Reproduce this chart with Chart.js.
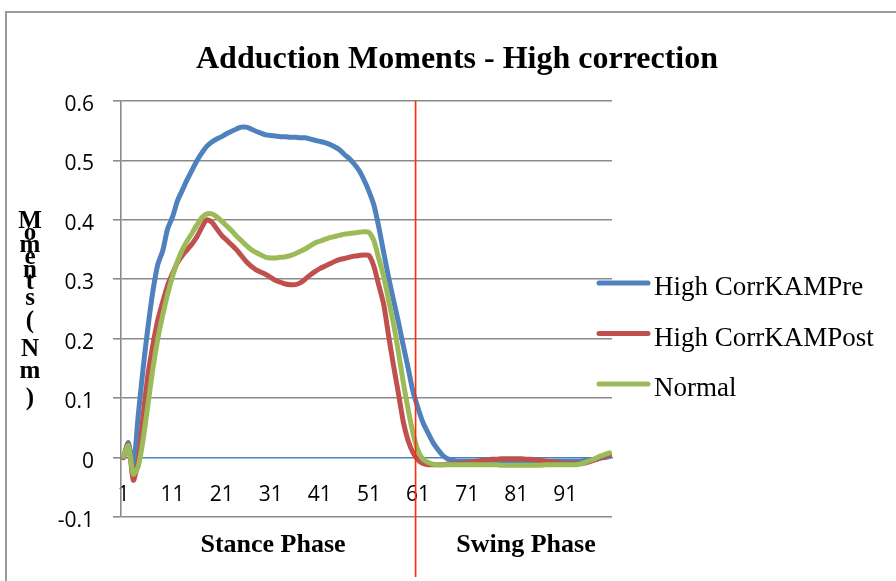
<!DOCTYPE html>
<html>
<head>
<meta charset="utf-8">
<script src="https://cdn.jsdelivr.net/npm/chart.js@4.4.1/dist/chart.umd.min.js"></script>
<style>
  html, body { margin: 0; padding: 0; background: #fff; overflow: hidden; }
  #frame { position: absolute; left: 5px; top: 11px; width: 920px; height: 600px; border: 2px solid #9a9a9a; }
  #wrap { position: absolute; left: 0; top: 0; width: 896px; height: 581px; }
</style>
</head>
<body>
<div id="frame"></div>
<div id="wrap"><canvas id="chart"></canvas></div>
<script>
// gait cycle steps (% of cycle)
const steps = [
  1, 2, 3, 4, 5, 6, 7, 8, 9, 10, 11, 12, 13, 14, 15, 16, 17, 18, 19, 20,
  21, 22, 23, 24, 25, 26, 27, 28, 29, 30, 31, 32, 33, 34, 35, 36, 37, 38, 39, 40,
  41, 42, 43, 44, 45, 46, 47, 48, 49, 50, 51, 52, 53, 54, 55, 56, 57, 58, 59, 60,
  61, 62, 63, 64, 65, 66, 67, 68, 69, 70, 71, 72, 73, 74, 75, 76, 77, 78, 79, 80,
  81, 82, 83, 84, 85, 86, 87, 88, 89, 90, 91, 92, 93, 94, 95, 96, 97, 98, 99, 100
];

const kamPre = [
  0.0, 0.025, -0.015, 0.07, 0.15, 0.22, 0.28, 0.325, 0.348, 0.385,
  0.405, 0.432, 0.45, 0.468, 0.484, 0.5, 0.513, 0.524, 0.531, 0.536,
  0.54, 0.545, 0.549, 0.553, 0.556, 0.556, 0.553, 0.549, 0.546, 0.543,
  0.542, 0.541, 0.54, 0.54, 0.539, 0.539, 0.538, 0.538, 0.536, 0.534,
  0.532, 0.53, 0.527, 0.523, 0.518, 0.51, 0.503, 0.494, 0.483, 0.467,
  0.448, 0.425, 0.388, 0.345, 0.303, 0.265, 0.228, 0.188, 0.15, 0.11,
  0.083, 0.059, 0.042, 0.026, 0.014, 0.004, -0.002, -0.005, -0.006, -0.006,
  -0.006, -0.006, -0.006, -0.006, -0.006, -0.006, -0.006, -0.006, -0.006, -0.006,
  -0.006, -0.006, -0.006, -0.006, -0.006, -0.006, -0.006, -0.006, -0.006, -0.006,
  -0.006, -0.006, -0.006, -0.006, -0.005, -0.004, -0.003, -0.001, 0.0, 0.002
];

const kamPost = [
  0.0, 0.022, -0.038, -0.005, 0.07, 0.14, 0.19, 0.232, 0.262, 0.29,
  0.31, 0.328, 0.34, 0.35, 0.36, 0.372, 0.388, 0.4, 0.396, 0.385,
  0.374, 0.366, 0.358, 0.35, 0.34, 0.33, 0.322, 0.316, 0.312, 0.308,
  0.303, 0.298, 0.295, 0.292, 0.291, 0.291, 0.294, 0.3, 0.307, 0.313,
  0.318, 0.322, 0.326, 0.33, 0.333, 0.335, 0.337, 0.339, 0.34, 0.341,
  0.34, 0.322, 0.29, 0.258, 0.205, 0.155, 0.108, 0.06, 0.028, 0.008,
  -0.004, -0.01, -0.012, -0.012, -0.012, -0.012, -0.011, -0.011, -0.01, -0.01,
  -0.009, -0.008, -0.006, -0.005, -0.004, -0.003, -0.003, -0.002, -0.002, -0.002,
  -0.002, -0.002, -0.003, -0.003, -0.004, -0.005, -0.006, -0.007, -0.008, -0.009,
  -0.01, -0.01, -0.01, -0.01, -0.009, -0.007, -0.004, -0.001, 0.002, 0.004
];

const normal = [
  0.002, 0.02, -0.028, -0.015, 0.03, 0.09, 0.15, 0.2, 0.24, 0.275,
  0.305, 0.33, 0.35, 0.365, 0.378, 0.392, 0.404, 0.41, 0.41, 0.405,
  0.398, 0.39, 0.382, 0.373, 0.365, 0.357, 0.35, 0.345, 0.341, 0.337,
  0.336, 0.336, 0.337, 0.338, 0.34, 0.343, 0.347, 0.351, 0.356, 0.361,
  0.364, 0.367, 0.37, 0.372, 0.374, 0.376, 0.377, 0.378, 0.379, 0.38,
  0.379, 0.365, 0.335, 0.305, 0.265, 0.225, 0.178, 0.126, 0.08, 0.04,
  0.012, -0.003, -0.008, -0.011, -0.012, -0.012, -0.012, -0.012, -0.012, -0.012,
  -0.012, -0.012, -0.012, -0.012, -0.012, -0.012, -0.012, -0.013, -0.013, -0.013,
  -0.013, -0.013, -0.013, -0.013, -0.013, -0.013, -0.012, -0.012, -0.012, -0.012,
  -0.012, -0.012, -0.012, -0.011, -0.008, -0.005, -0.002, 0.002, 0.005, 0.008
];

const seriesNames = ['High CorrKAMPre', 'High CorrKAMPost', 'Normal'];
const seriesColors = ['#4F81BD', '#C0504D', '#9BBB59'];
const swingStartStep = 61;

const GRID = '#8a8a8a';
const SERIF = '"Liberation Serif", "Times New Roman", serif';

// title, stacked axis title, phase labels, legend and the stance/swing divider
const decorations = {
  id: 'decorations',
  afterDatasetsDraw(chart) {
    const { ctx, chartArea, scales: { x } } = chart;
    const i = steps.indexOf(swingStartStep);
    const divX = (x.getPixelForValue(i - 1) + x.getPixelForValue(i)) / 2;
    ctx.save();
    ctx.strokeStyle = '#FF2A00';
    ctx.lineWidth = 1.6;
    ctx.beginPath();
    ctx.moveTo(divX, chartArea.top);
    ctx.lineTo(divX, 577);
    ctx.stroke();
    ctx.restore();
  },
  afterDraw(chart) {
    const { ctx } = chart;
    ctx.save();
    ctx.fillStyle = '#000';

    ctx.textAlign = 'center';
    ctx.textBaseline = 'alphabetic';
    ctx.font = 'bold 32px ' + SERIF;
    ctx.fillText('Adduction Moments - High correction', 457, 68);

    // vertical stacked axis title
    ctx.font = 'bold 25px ' + SERIF;
    const chars = ['M', 'o', 'm', 'e', 'n', 't', 's', '(', 'N', 'm', ')'];
    const baselines = [228, 240, 252, 264, 277, 289, 305, 328, 356, 378, 405];
    chars.forEach((c, k) => ctx.fillText(c, 30, baselines[k]));

    ctx.font = 'bold 26px ' + SERIF;
    ctx.fillText('Stance Phase', 273, 552);
    ctx.fillText('Swing Phase', 526, 552);

    // legend
    ctx.textAlign = 'left';
    ctx.font = '27px ' + SERIF;
    chart.data.datasets.forEach((ds, k) => {
      const y = 283 + 50.5 * k;
      ctx.strokeStyle = ds.borderColor;
      ctx.lineWidth = 5;
      ctx.lineCap = 'round';
      ctx.beginPath();
      ctx.moveTo(599, y);
      ctx.lineTo(648, y);
      ctx.stroke();
      ctx.fillText(ds.label, 654, y + 12);
    });
    ctx.restore();
  }
};

const datasets = [kamPre, kamPost, normal].map((values, k) => ({
  label: seriesNames[k],
  data: values,
  borderColor: seriesColors[k],
  backgroundColor: seriesColors[k],
  borderWidth: 5,
  borderCapStyle: 'round',
  borderJoinStyle: 'round',
  pointRadius: 0,
  tension: 0.25,
  fill: false,
  order: 3 - k
}));

new Chart(document.getElementById('chart'), {
  type: 'line',
  data: { labels: steps, datasets },
  options: {
    responsive: true,
    maintainAspectRatio: false,
    animation: false,
    layout: { padding: { left: 0, right: 284, top: 101, bottom: 64 } },
    plugins: {
      legend: { display: false },
      title: { display: false },
      tooltip: { enabled: false }
    },
    scales: {
      x: {
        type: 'category',
        position: { y: 0 },
        offset: true,
        grid: { display: false, drawTicks: false },
        border: { display: true, color: '#4F81BD', width: 1.5 },
        ticks: {
          autoSkip: false,
          maxRotation: 0,
          padding: 25,
          color: '#000',
          font: { family: '"Open Sans", sans-serif', size: 21 },
          callback: (v, i) => (i % 10 === 0 ? String(steps[i]) : '')
        }
      },
      y: {
        min: -0.1,
        max: 0.6,
        afterFit: (scale) => { scale.width = 121; },
        grid: {
          color: (c) => (c.tick && Math.abs(c.tick.value) < 1e-9 ? 'rgba(0,0,0,0)' : GRID),
          tickColor: GRID,
          lineWidth: 1.6,
          tickLength: 8
        },
        border: { color: GRID, width: 1.6 },
        ticks: {
          stepSize: 0.1,
          padding: 19,
          labelOffset: 4,
          color: '#000',
          font: { family: '"Open Sans", sans-serif', size: 21 },
          callback: (v) => String(Math.round(v * 10) / 10)
        }
      }
    }
  },
  plugins: [decorations]
});
</script>
</body>
</html>
